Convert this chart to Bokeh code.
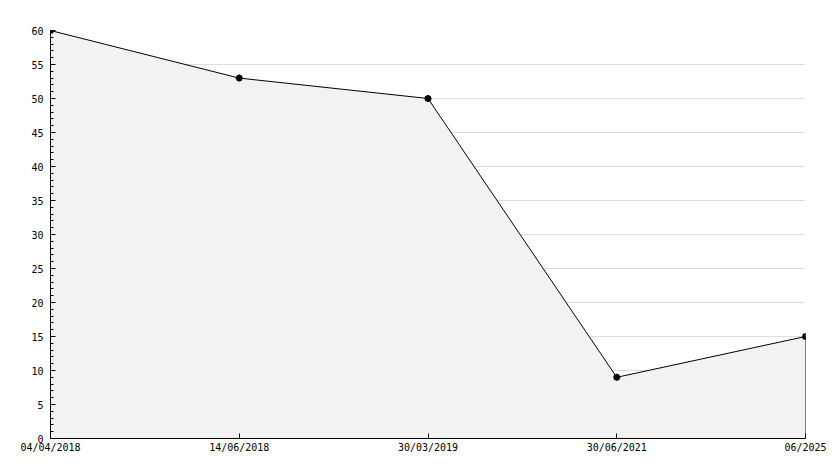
from bokeh.plotting import figure
from bokeh.models import Range1d, FixedTicker, ColumnDataSource
from bokeh.embed import file_html
from bokeh.resources import INLINE

dates = ["04/04/2018", "14/06/2018", "30/03/2019", "30/06/2021", "06/2025"]
values = [60, 53, 50, 9, 15]
y_ticks = list(range(0, 61, 5))

xs = list(range(len(dates)))

p = figure(width=834, height=468, output_backend="svg", toolbar_location=None,
           x_range=Range1d(0, len(dates) - 1), y_range=Range1d(0, 60),
           min_border_left=50, min_border_right=29, min_border_top=30, min_border_bottom=30)
p.outline_line_color = None
p.background_fill_color = "white"
p.border_fill_color = "white"

# area polygon
px = [xs[0]] + xs + [xs[-1]]
py = [0] + values + [0]
p.patch(px, py, fill_color="#f2f2f2", line_color="black", line_width=1)

src = ColumnDataSource(dict(x=xs, y=values))
p.scatter("x", "y", source=src, marker="asterisk", size=7, line_color="black", line_width=2)
p.scatter("x", "y", source=src, marker="circle", size=5, fill_color="black", line_color="black")

font = "DejaVu Sans Mono"
for ax in (p.xaxis[0], p.yaxis[0]):
    ax.axis_line_color = "black"
    ax.major_tick_line_color = "black"
    ax.minor_tick_line_color = "black"
    ax.major_tick_out = 0
    ax.minor_tick_out = 0
    ax.major_label_text_font = font
    ax.major_label_text_font_size = "10px"
    ax.major_label_text_color = "black"

p.yaxis.ticker = FixedTicker(ticks=y_ticks, minor_ticks=list(range(0, 61, 1)))
p.yaxis.major_tick_in = 5
p.yaxis.minor_tick_in = 3
p.yaxis.major_label_standoff = 7

p.xaxis.ticker = FixedTicker(ticks=xs, minor_ticks=[])
p.xaxis.major_label_overrides = {i: d for i, d in enumerate(dates)}
p.xaxis.major_tick_in = 5
p.xaxis.major_label_standoff = 3

p.xgrid.grid_line_color = None
p.ygrid.grid_line_color = "#dddddd"
p.ygrid.level = "underlay"

open("out.html", "w").write(file_html(p, INLINE))
